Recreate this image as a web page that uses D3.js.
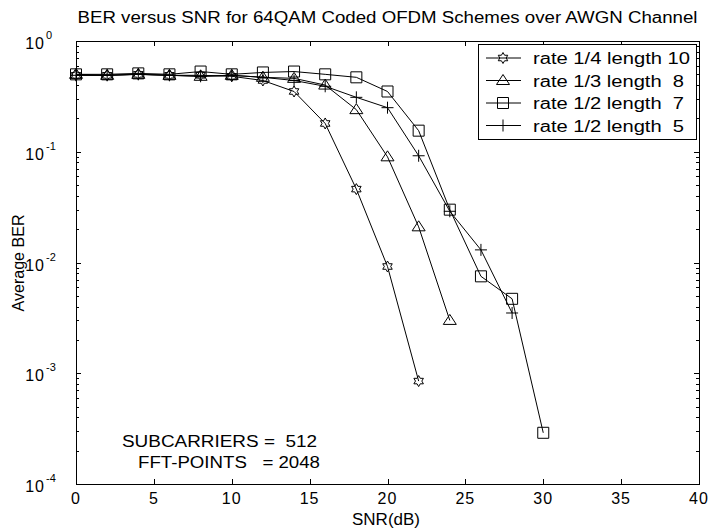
<!DOCTYPE html>
<html><head><meta charset="utf-8">
<script src="https://cdn.jsdelivr.net/npm/d3@7"></script>
<style>
body{margin:0;background:#fff;}
text{font-family:"Liberation Sans",Arial,sans-serif;fill:#000;}
</style></head>
<body>
<svg id="c" width="713" height="531"></svg>
<script>
const snrStar = [0,2,4,6,8,10,12,14,16,18,20,22];
const berStar = [0.49,0.49,0.50,0.49,0.49,0.48,0.44,0.35,0.18,0.046,0.0092,0.00085];
const snrTri = [0,2,4,6,8,10,12,14,16,18,20,22,24];
const berTri = [0.50,0.49,0.50,0.49,0.48,0.49,0.47,0.46,0.40,0.24,0.090,0.021,0.0030];
const snrSq = [0,2,4,6,8,10,12,14,16,18,20,22,24,26,28,30];
const berSq = [0.50,0.50,0.51,0.50,0.53,0.50,0.52,0.53,0.50,0.47,0.35,0.155,0.030,0.0075,0.0047,0.00029];
const snrPlus = [0,2,4,6,8,10,12,14,16,18,20,22,24,26,28];
const berPlus = [0.49,0.49,0.50,0.49,0.48,0.49,0.47,0.44,0.39,0.31,0.25,0.092,0.029,0.013,0.0035];
const legendLabels = ["rate 1/4 length 10","rate 1/3 length \u00a08","rate 1/2 length \u00a07","rate 1/2 length \u00a05"];
const xTicks = [0,5,10,15,20,25,30,35,40];
const yTickExps = [0,-1,-2,-3,-4];
const titleText = "BER versus SNR for 64QAM Coded OFDM Schemes over AWGN Channel";
const xLabel = "SNR(dB)";
const yLabel = "Average BER";
const noteLines = ["SUBCARRIERS = \u00a0512","FFT-POINTS \u00a0 = 2048"];

const svg = d3.select("#c");
const L=76, R=699, T=41, B=484;
const x = d3.scaleLinear().domain([0,40]).range([L,R]);
const y = d3.scaleLog().domain([1e-4,1]).range([B,T]);
const fs = 16;

svg.append("rect").attr("x",L+0.5).attr("y",T+0.5).attr("width",R-L).attr("height",B-T)
  .attr("fill","none").attr("stroke","#000").attr("stroke-width",1);

xTicks.forEach(v=>{
  const px = Math.round(x(v))+0.5;
  svg.append("line").attr("x1",px).attr("x2",px).attr("y1",B).attr("y2",B-5).attr("stroke","#000");
  svg.append("line").attr("x1",px).attr("x2",px).attr("y1",T).attr("y2",T+5).attr("stroke","#000");
  svg.append("text").attr("x",x(v)).attr("y",504).attr("text-anchor","middle")
    .attr("font-size",fs).attr("letter-spacing",1).text(v);
});
yTickExps.forEach(e=>{
  const py = Math.round(y(Math.pow(10,e)))+0.5;
  svg.append("line").attr("x1",L).attr("x2",L+5).attr("y1",py).attr("y2",py).attr("stroke","#000");
  svg.append("line").attr("x1",R).attr("x2",R-5).attr("y1",py).attr("y2",py).attr("stroke","#000");
  svg.append("text").attr("x",45).attr("y",py+7).attr("text-anchor","end").attr("font-size",fs)
    .attr("letter-spacing",1).text("10");
  svg.append("text").attr("x",46).attr("y",py-3).attr("font-size",11).text(String(e));
  if(e>-4){
    for(let m=2;m<=9;m++){
      const my = Math.round(y(m*Math.pow(10,e-1)))+0.5;
      svg.append("line").attr("x1",L).attr("x2",L+3).attr("y1",my).attr("y2",my).attr("stroke","#000");
      svg.append("line").attr("x1",R).attr("x2",R-3).attr("y1",my).attr("y2",my).attr("stroke","#000");
    }
  }
});

svg.append("text").attr("x",(L+R)/2).attr("y",23).attr("text-anchor","middle").attr("font-size",fs)
  .attr("textLength",620).attr("lengthAdjust","spacingAndGlyphs").text(titleText);
svg.append("text").attr("x",386).attr("y",525).attr("text-anchor","middle").attr("font-size",fs)
  .attr("textLength",68).attr("lengthAdjust","spacingAndGlyphs").text(xLabel);
svg.append("text").attr("transform","translate(24,263) rotate(-90)").attr("text-anchor","middle")
  .attr("font-size",fs).attr("textLength",97).attr("lengthAdjust","spacingAndGlyphs").text(yLabel);

function hexagram(r){
  const pts=[];
  for(let i=0;i<12;i++){
    const a = Math.PI/2 + i*Math.PI/6;
    const rr = i%2===0 ? r : r/Math.sqrt(3);
    pts.push([rr*Math.cos(a), -rr*Math.sin(a)]);
  }
  return "M"+pts.map(p=>p[0].toFixed(2)+","+p[1].toFixed(2)).join("L")+"Z";
}
const markerPaths = [
  hexagram(5.5),
  "M0,-6L6.5,4L-6.5,4Z",
  "M-5.5,-5.5L5.5,-5.5L5.5,5.5L-5.5,5.5Z",
  "M-6,0L6,0M0,-6L0,6"
];
const series = [
  {xs:snrStar, ys:berStar},
  {xs:snrTri, ys:berTri},
  {xs:snrSq, ys:berSq},
  {xs:snrPlus, ys:berPlus}
];
const line = d3.line().x(d=>x(d[0])).y(d=>y(d[1]));
series.forEach((s,i)=>{
  const data = s.xs.map((v,k)=>[v,s.ys[k]]);
  svg.append("path").datum(data).attr("d",line).attr("fill","none").attr("stroke","#000").attr("stroke-width",1);
  svg.selectAll(null).data(data).enter().append("path")
    .attr("transform",d=>`translate(${x(d[0])},${y(d[1])})`)
    .attr("d",markerPaths[i]).attr("fill","none").attr("stroke","#000").attr("stroke-width",1);
});

const lg = svg.append("g");
lg.append("rect").attr("x",478.5).attr("y",44.5).attr("width",218).attr("height",95)
  .attr("fill","#fff").attr("stroke","#000");
legendLabels.forEach((lab,i)=>{
  const ly = 58 + i*22.5;
  lg.append("line").attr("x1",486).attr("x2",521).attr("y1",ly).attr("y2",ly).attr("stroke","#000");
  lg.append("path").attr("transform",`translate(503,${ly})`).attr("d",markerPaths[i])
    .attr("fill","none").attr("stroke","#000");
  lg.append("text").attr("x",533).attr("y",ly+6).attr("font-size",fs)
    .attr("textLength",i===0?157:151).attr("lengthAdjust","spacingAndGlyphs").text(lab);
});

svg.append("text").attr("x",122).attr("y",447).attr("font-size",fs)
  .attr("textLength",195).attr("lengthAdjust","spacingAndGlyphs").text(noteLines[0]);
svg.append("text").attr("x",138).attr("y",468).attr("font-size",fs)
  .attr("textLength",182).attr("lengthAdjust","spacingAndGlyphs").text(noteLines[1]);
</script>
</body></html>
